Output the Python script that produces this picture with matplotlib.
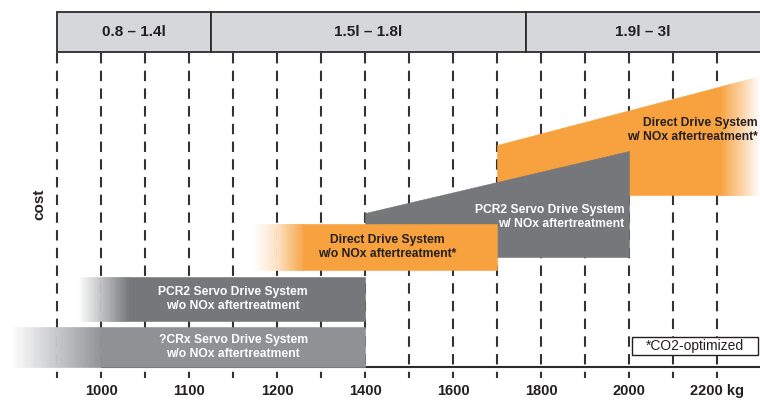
import numpy as np
import matplotlib.pyplot as plt
from matplotlib.colors import to_rgb
from matplotlib.patches import Rectangle

plt.rcParams['font.family'] = ['Liberation Sans', 'DejaVu Sans']

# x axis: vehicle weight in kg (100 kg steps up to 1200, 200 kg steps after)
tick_kg = [1000, 1100, 1200, 1400, 1600, 1800, 2000, 2200]
tick_labels = ['1000', '1100', '1200', '1400', '1600', '1800', '2000', '2200 kg']
grid_kg = [950, 1000, 1050, 1100, 1150, 1200, 1300, 1400, 1500, 1600,
           1700, 1800, 1900, 2000, 2100, 2200]

# engine size ranges on top
range_labels = ['0.8 – 1.4l', '1.5l – 1.8l', '1.9l – 3l']
range_edges_kg = [950, 1125, 1765, 2300]

# drive systems (cost in arbitrary units)
systems = ['?CRx Servo Drive System\nw/o NOx aftertreatment',
           'PCR2 Servo Drive System\nw/o NOx aftertreatment',
           'Direct Drive System\nw/o NOx aftertreatment*',
           'PCR2 Servo Drive System\nw/ NOx aftertreatment',
           'Direct Drive System\nw/ NOx aftertreatment*']
band_from = [897, 974, 1173, 1400, 1700]
solid_from = [1000, 1030, 1260, 1400, 1700]
solid_to = [1400, 1400, 1700, 2000, 2210]
band_to = [1400, 1400, 1700, 2000, 2298]
cost_bottom = [0, 46, 97, 110, 172]
cost_top_start = [40, 90, 143, 154, 222]
cost_top_end = [40, 90, 143, 216, 291]
colors = ['#8f9195', '#76777b', '#f7a13f', '#76777b', '#f7a13f']
text_colors = ['white', 'white', '#231f20', 'white', '#231f20']
label_kg = [1150, 1150, 1450, 1990, 2293]
label_cost = [20, 68, 120, 150, 237]
label_ha = ['center', 'center', 'center', 'right', 'right']
zorders = [5, 5, 6, 5, 4]


def to_pos(kg):
    kg = np.asarray(kg, float)
    return np.where(kg < 1200, (kg - 1000) / 100, 2 + (kg - 1200) / 200)


def from_pos(p):
    p = np.asarray(p, float)
    return np.where(p < 2, 1000 + 100 * p, 1200 + 200 * (p - 2))


fig = plt.figure(figsize=(7.6, 4.07), dpi=100)
ax = fig.add_axes([0, 0, 1, 1])
ax.set_xscale('function', functions=(to_pos, from_pos))
ax.set_xlim(885, 2298)
ax.set_ylim(-40, 367)
ax.axis('off')

# dashed grid and base line
ax.vlines(grid_kg, 314, -11, colors='#333333', linestyles=(0, (5, 3.5)), lw=1.5, zorder=1)
ax.hlines(0, 1000, 2300, colors='#2b2b2b', lw=1.5, zorder=1.5)

# header boxes
for i, lab in enumerate(range_labels):
    e0, e1 = range_edges_kg[i], range_edges_kg[i + 1]
    ax.add_patch(Rectangle((e0, 315), e1 - e0, 40, facecolor='#d5d7da',
                           edgecolor='#2b2b2b', lw=1.3, zorder=3))
    xc = from_pos((to_pos(e0) + to_pos(e1)) / 2)
    ax.text(xc, 335, lab, ha='center', va='center', fontsize=11,
            fontweight='bold', color='#231f20', zorder=4)


def draw_band(i):
    x0, x1 = band_from[i], band_to[i]

    def top(x):
        return np.interp(x, [x0, x1], [cost_top_start[i], cost_top_end[i]])

    col = np.array(to_rgb(colors[i]))
    z = zorders[i]
    xs = np.array([solid_from[i], solid_to[i]])
    ax.fill_between(xs, cost_bottom[i], top(xs), facecolor=col,
                    edgecolor=col, lw=0.4, zorder=z)
    # fade to white at the open ends
    for a, b, rev in [(x0, solid_from[i], False), (solid_to[i], x1, True)]:
        if b <= a:
            continue
        n = 40
        edges = np.linspace(a, b, n + 1)
        for j in range(n):
            t = (j + 0.5) / n
            if rev:
                t = 1 - t
            c = 1 - t * (1 - col)
            xx = edges[j:j + 2]
            ax.fill_between(xx, cost_bottom[i], top(xx), facecolor=c,
                            edgecolor=c, lw=0.4, zorder=z)
    ax.text(label_kg[i], label_cost[i], systems[i], ha=label_ha[i],
            va='center', multialignment=label_ha[i], fontsize=8.7,
            fontweight='bold', color=text_colors[i], zorder=z + 0.5)


for i in range(len(systems)):
    draw_band(i)

# x tick labels
for kg, lab in zip(tick_kg, tick_labels):
    ax.text(kg, -24, lab, ha='center', va='center', fontsize=10.5,
            fontweight='bold', color='#231f20')

fig.text(39 / 760, 1 - 204 / 407, 'cost', rotation=90, ha='center',
         va='center', fontsize=11, fontweight='bold', color='#231f20')

# footnote box
ax.add_patch(Rectangle((2007, 12), 286, 18, facecolor='white',
                       edgecolor='#231f20', lw=1.0, zorder=3))
ax.text(2150, 21, '*CO2-optimized', ha='center', va='center',
        fontsize=10, color='#231f20', zorder=4)

fig.savefig('out.png', dpi=100)
